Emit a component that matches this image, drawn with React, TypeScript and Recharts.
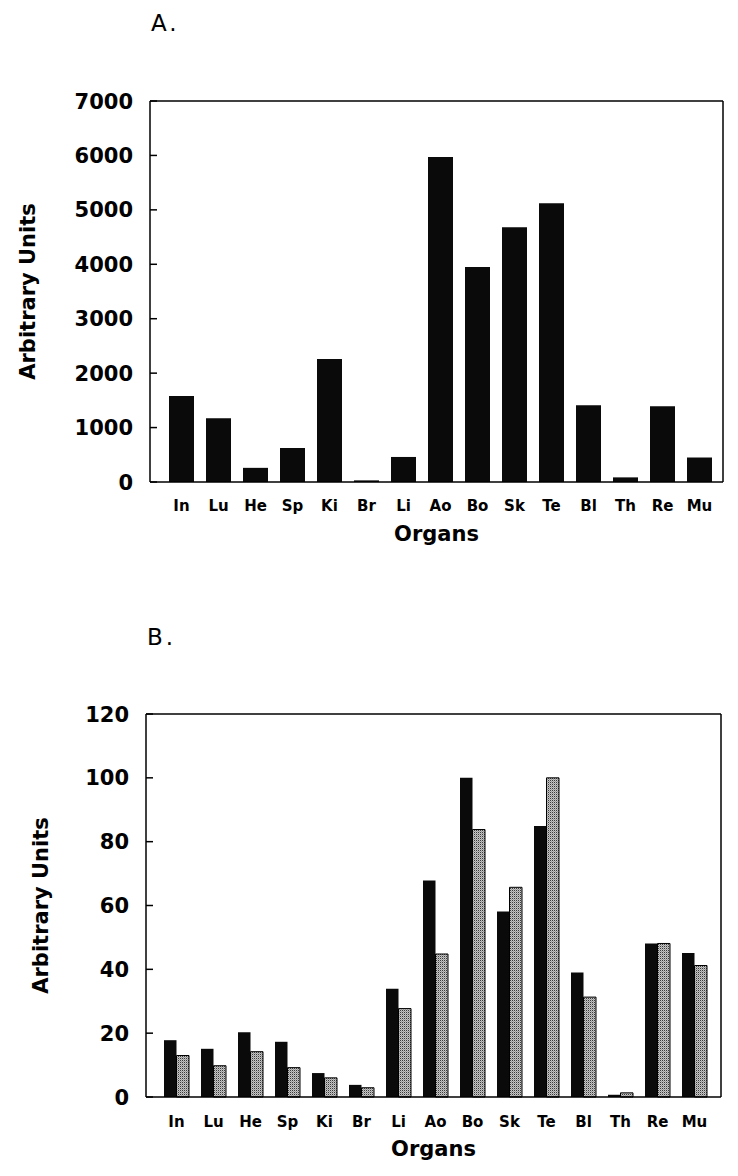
import React from "react"
import { BarChart, Bar, XAxis, YAxis } from "recharts"

const organs = ["In", "Lu", "He", "Sp", "Ki", "Br", "Li", "Ao", "Bo", "Sk", "Te", "Bl", "Th", "Re", "Mu"]

// panel A: single series
const panelA = [1580, 1170, 260, 625, 2260, 30, 460, 5970, 3950, 4680, 5120, 1410, 85, 1390, 450]
const ticksA = [0, 1000, 2000, 3000, 4000, 5000, 6000, 7000]

// panel B: black and stippled series
const panelBBlack = [17.8, 15.1, 20.3, 17.3, 7.5, 3.8, 33.9, 67.8, 100, 58.1, 84.9, 39.0, 0.7, 48.1, 45.1]
const panelBGrey = [13.0, 9.8, 14.2, 9.2, 6.0, 2.9, 27.7, 44.8, 83.8, 65.7, 100, 31.3, 1.3, 48.1, 41.2]
const ticksB = [0, 20, 40, 60, 80, 100, 120]

const dataA = organs.map((organ, i) => ({ organ, value: panelA[i] }))
const dataB = organs.map((organ, i) => ({ organ, black: panelBBlack[i], grey: panelBGrey[i] }))

const FONT = "'DejaVu Sans', 'Liberation Sans', sans-serif"
const AXIS = { stroke: "#000", strokeWidth: 1.5 }

// tick mark points into the plot, label sits left of the axis
// eslint-disable-next-line @typescript-eslint/no-explicit-any
function YTick({ y, payload, axisX }: any) {
  return (
    <g>
      <line x1={axisX} x2={axisX + 7} y1={y} y2={y} stroke="#000" strokeWidth={1.5} />
      <text
        x={axisX - 17}
        y={y}
        dy="0.36em"
        textAnchor="end"
        fill="#000"
        fontFamily={FONT}
        fontWeight="bold"
        fontSize={21}
      >
        {payload.value}
      </text>
    </g>
  )
}

function yLabel(baseX: number) {
  // eslint-disable-next-line @typescript-eslint/no-explicit-any
  return (p: any) => {
    const vb = p.viewBox
    const cy = vb.y + vb.height / 2
    return (
      <text
        x={baseX}
        y={cy}
        transform={`rotate(-90, ${baseX}, ${cy})`}
        textAnchor="middle"
        fill="#000"
        fontFamily={FONT}
        fontWeight="bold"
        fontSize={21}
      >
        Arbitrary Units
      </text>
    )
  }
}

// eslint-disable-next-line @typescript-eslint/no-explicit-any
function xLabel(p: any) {
  const vb = p.viewBox
  return (
    <text
      x={vb.x + vb.width / 2}
      y={vb.y + 59}
      textAnchor="middle"
      fill="#000"
      fontFamily={FONT}
      fontWeight="bold"
      fontSize={21}
    >
      Organs
    </text>
  )
}

const xTick = { fill: "#000", fontSize: 15, fontWeight: "bold", fontFamily: FONT }

function PanelA() {
  return (
    <BarChart width={738} height={580} data={dataA} margin={{ top: 100, right: 14, bottom: 23, left: 0 }}>
      <XAxis
        dataKey="organ"
        height={75}
        padding={{ left: 13, right: 5 }}
        axisLine={AXIS}
        tickLine={false}
        tickSize={6}
        tickMargin={12}
        tick={xTick}
        interval={0}
        label={xLabel}
      />
      <XAxis xAxisId="top" dataKey="organ" orientation="top" height={1} axisLine={AXIS} tick={false} tickLine={false} />
      <YAxis
        width={150}
        domain={[0, 7000]}
        ticks={ticksA}
        axisLine={AXIS}
        tickLine={false}
        tickSize={0}
        tickMargin={17}
        tick={<YTick axisX={150} />}
        label={yLabel(35)}
      />
      <YAxis yAxisId="r" orientation="right" width={1} domain={[0, 1]} axisLine={AXIS} tick={false} tickLine={false} />
      <Bar dataKey="value" fill="#0a0a0a" barSize={25} isAnimationActive={false} />
    </BarChart>
  )
}

function PanelB() {
  return (
    <BarChart
      width={738}
      height={576}
      data={dataB}
      barGap={0}
      margin={{ top: 113, right: 16, bottom: 9, left: 0 }}
    >
      <defs>
        <pattern id="stipple" width={2} height={2} patternUnits="userSpaceOnUse">
          <rect width={2} height={2} fill="#c4c4c4" />
          <rect x={0} y={0} width={1} height={1} fill="#3a3a3a" />
          <rect x={1} y={1} width={1} height={1} fill="#9a9a9a" />
        </pattern>
      </defs>
      <XAxis
        dataKey="organ"
        height={70}
        padding={{ left: 12, right: 8 }}
        axisLine={AXIS}
        tickLine={false}
        tickSize={6}
        tickMargin={13}
        tick={xTick}
        interval={0}
        label={xLabel}
      />
      <XAxis xAxisId="top" dataKey="organ" orientation="top" height={1} axisLine={AXIS} tick={false} tickLine={false} />
      <YAxis
        width={146}
        domain={[0, 120]}
        ticks={ticksB}
        axisLine={AXIS}
        tickLine={false}
        tickSize={0}
        tickMargin={17}
        tick={<YTick axisX={146} />}
        label={yLabel(48)}
      />
      <YAxis yAxisId="r" orientation="right" width={1} domain={[0, 1]} axisLine={AXIS} tick={false} tickLine={false} />
      <Bar dataKey="black" fill="#0a0a0a" barSize={12.5} isAnimationActive={false} />
      <Bar dataKey="grey" fill="url(#stipple)" stroke="#000" strokeWidth={1} barSize={12.5} isAnimationActive={false} />
    </BarChart>
  )
}

export default function App() {
  return (
    <div style={{ position: "absolute", left: 0, top: 0, width: 738, height: 1176, background: "#fff" }}>
      <svg width={738} height={1176} style={{ position: "absolute", left: 0, top: 0 }}>
        <text x={151} y={31} fontFamily={FONT} fontSize={23} letterSpacing={3} fill="#000">
          A.
        </text>
        <text x={147} y={645} fontFamily={FONT} fontSize={23} letterSpacing={3} fill="#000">
          B.
        </text>
      </svg>
      <div style={{ position: "absolute", left: 0, top: 0 }}>
        <PanelA />
      </div>
      <div style={{ position: "absolute", left: 0, top: 600 }}>
        <PanelB />
      </div>
    </div>
  )
}
